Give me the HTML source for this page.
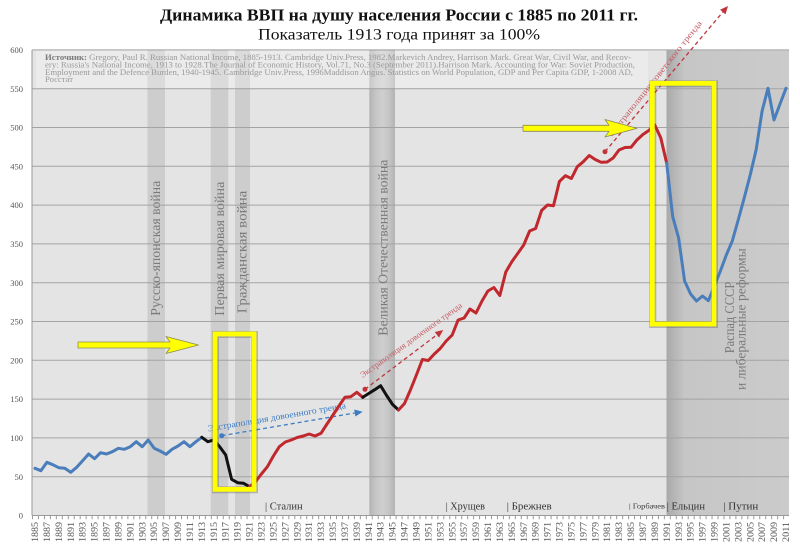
<!DOCTYPE html>
<html><head><meta charset="utf-8"><style>
html,body{margin:0;padding:0;background:#fff;}
svg{display:block;}
text{font-family:"Liberation Serif","Noto Serif CJK SC",serif;}
</style></head><body>
<svg width="800" height="552" viewBox="0 0 800 552" xmlns="http://www.w3.org/2000/svg">
<defs>
<linearGradient id="ww2" x1="0" x2="1" y1="0" y2="0">
<stop offset="0" stop-color="#b3b3b3"/><stop offset="0.25" stop-color="#c6c6c6"/><stop offset="0.5" stop-color="#cfcfcf"/><stop offset="0.75" stop-color="#c6c6c6"/><stop offset="1" stop-color="#b3b3b3"/>
</linearGradient>
<linearGradient id="rgt" x1="0" x2="1" y1="0" y2="0">
<stop offset="0" stop-color="#a9a9a9"/><stop offset="0.15" stop-color="#c6c6c6"/><stop offset="1" stop-color="#cbcbcb"/>
</linearGradient>
</defs>

<!-- title -->
<text x="160" y="20.5" font-size="17" font-weight="bold" fill="#111" textLength="478" lengthAdjust="spacingAndGlyphs">Динамика ВВП на душу населения России с 1885 по 2011 гг.</text>
<text x="258" y="39.5" font-size="15.5" fill="#111" textLength="282" lengthAdjust="spacingAndGlyphs">Показатель 1913 года принят за 100%</text>

<!-- plot background -->
<rect x="32" y="50" width="757" height="465.5" fill="#e4e4e4"/>
<!-- bands -->
<rect x="147.5" y="50" width="17.5" height="465.5" fill="#cdcdcd"/>
<rect x="210.7" y="50" width="17.6" height="465.5" fill="#cdcdcd"/>
<rect x="235" y="50" width="15" height="465.5" fill="#cdcdcd"/>
<rect x="369.3" y="50" width="25.7" height="465.5" fill="url(#ww2)"/>
<rect x="666.5" y="50" width="122.5" height="465.5" fill="url(#rgt)"/>

<!-- source overlay -->
<rect x="36" y="51" width="612" height="37" fill="#ffffff" opacity="0.28"/>

<!-- gridlines -->
<g stroke="#a3a3a3" stroke-width="1">
<line x1="32" x2="789" y1="49.9" y2="49.9"/>
<line x1="32" x2="789" y1="88.7" y2="88.7"/>
<line x1="32" x2="789" y1="127.5" y2="127.5"/>
<line x1="32" x2="789" y1="166.3" y2="166.3"/>
<line x1="32" x2="789" y1="205.1" y2="205.1"/>
<line x1="32" x2="789" y1="243.9" y2="243.9"/>
<line x1="32" x2="789" y1="282.7" y2="282.7"/>
<line x1="32" x2="789" y1="321.5" y2="321.5"/>
<line x1="32" x2="789" y1="360.3" y2="360.3"/>
<line x1="32" x2="789" y1="399.1" y2="399.1"/>
<line x1="32" x2="789" y1="437.9" y2="437.9"/>
<line x1="32" x2="789" y1="476.7" y2="476.7"/>
</g>
<line x1="32" x2="32" y1="50" y2="515.5" stroke="#999" stroke-width="1"/>
<line x1="32" x2="789" y1="515.5" y2="515.5" stroke="#999" stroke-width="1"/>
<line x1="32" x2="789" y1="517.5" y2="517.5" stroke="#999" stroke-width="3.5" stroke-dasharray="1 4.961"/>

<!-- y labels -->
<g font-size="8.5" fill="#555" text-anchor="end">
<text x="23" y="53">600</text>
<text x="23" y="91.8">550</text>
<text x="23" y="130.6">500</text>
<text x="23" y="169.4">450</text>
<text x="23" y="208.2">400</text>
<text x="23" y="247">350</text>
<text x="23" y="285.8">300</text>
<text x="23" y="324.6">250</text>
<text x="23" y="363.4">200</text>
<text x="23" y="402.2">150</text>
<text x="23" y="441">100</text>
<text x="23" y="479.8">50</text>
<text x="23" y="518.6">0</text>
</g>

<!-- source text -->
<g font-size="8.5" fill="#999">
<text x="45" y="60" textLength="586" lengthAdjust="spacingAndGlyphs"><tspan font-weight="bold" fill="#7a7a7a">Источник:</tspan> Gregory, Paul R. Russian National Income, 1885-1913. Cambridge Univ.Press, 1982.Markevich Andrey, Harrison Mark. Great War, Civil War, and Recov-</text>
<text x="45" y="67.5" textLength="590" lengthAdjust="spacingAndGlyphs">ery: Russia's National Income, 1913 to 1928.The Journal of Economic History, Vol.71, No.3 (September 2011).Harrison Mark. Accounting for War: Soviet Production,</text>
<text x="45" y="75" textLength="588" lengthAdjust="spacingAndGlyphs">Employment and the Defence Burden, 1940-1945. Cambridge Univ.Press, 1996Maddison Angus. Statistics on World Population, GDP and Per Capita GDP, 1-2008 AD,</text>
<text x="45" y="82" textLength="28" lengthAdjust="spacingAndGlyphs">Росстат</text>
</g>

<!-- vertical labels -->
<g font-size="14" fill="#7a7a7a">
<text transform="translate(160,315.7) rotate(-90)" textLength="135" lengthAdjust="spacingAndGlyphs">Русско-японская война</text>
<text transform="translate(224,315.7) rotate(-90)" textLength="134" lengthAdjust="spacingAndGlyphs">Первая мировая война</text>
<text transform="translate(246.5,313.3) rotate(-90)" textLength="122.6" lengthAdjust="spacingAndGlyphs">Гражданская война</text>
<text transform="translate(387.5,335.7) rotate(-90)" textLength="176" lengthAdjust="spacingAndGlyphs">Великая Отечественная война</text>
<text transform="translate(734,353.3) rotate(-90)" textLength="71.6" lengthAdjust="spacingAndGlyphs">Распад СССР</text>
<text transform="translate(745.5,390) rotate(-90)" textLength="141.7" lengthAdjust="spacingAndGlyphs">и либеральные реформы</text>
</g>

<!-- leaders -->
<g font-size="11" fill="#333">
<text x="265" y="509.5" textLength="37.7" lengthAdjust="spacingAndGlyphs">| Сталин</text>
<text x="445.7" y="509.5" textLength="39.3" lengthAdjust="spacingAndGlyphs">| Хрущев</text>
<text x="506.7" y="509.5" textLength="45" lengthAdjust="spacingAndGlyphs">| Брежнев</text>
<text x="629" y="508.5" font-size="7.5" textLength="36" lengthAdjust="spacingAndGlyphs">| Горбачев</text>
<text x="666.7" y="509.5" textLength="38.3" lengthAdjust="spacingAndGlyphs">| Ельцин</text>
<text x="723.3" y="509.5" textLength="35" lengthAdjust="spacingAndGlyphs">| Путин</text>
</g>

<!-- x labels -->
<g font-size="9" fill="#555" text-anchor="end">
<text transform="translate(38,522) rotate(-90)" textLength="20" lengthAdjust="spacingAndGlyphs">1885</text>
<text transform="translate(49.9,522) rotate(-90)" textLength="20" lengthAdjust="spacingAndGlyphs">1887</text>
<text transform="translate(61.8,522) rotate(-90)" textLength="20" lengthAdjust="spacingAndGlyphs">1889</text>
<text transform="translate(73.75,522) rotate(-90)" textLength="20" lengthAdjust="spacingAndGlyphs">1891</text>
<text transform="translate(85.67,522) rotate(-90)" textLength="20" lengthAdjust="spacingAndGlyphs">1893</text>
<text transform="translate(97.59,522) rotate(-90)" textLength="20" lengthAdjust="spacingAndGlyphs">1895</text>
<text transform="translate(109.51,522) rotate(-90)" textLength="20" lengthAdjust="spacingAndGlyphs">1897</text>
<text transform="translate(121.43,522) rotate(-90)" textLength="20" lengthAdjust="spacingAndGlyphs">1899</text>
<text transform="translate(133.36,522) rotate(-90)" textLength="20" lengthAdjust="spacingAndGlyphs">1901</text>
<text transform="translate(145.28,522) rotate(-90)" textLength="20" lengthAdjust="spacingAndGlyphs">1903</text>
<text transform="translate(157.2,522) rotate(-90)" textLength="20" lengthAdjust="spacingAndGlyphs">1905</text>
<text transform="translate(169.12,522) rotate(-90)" textLength="20" lengthAdjust="spacingAndGlyphs">1907</text>
<text transform="translate(181.04,522) rotate(-90)" textLength="20" lengthAdjust="spacingAndGlyphs">1909</text>
<text transform="translate(192.97,522) rotate(-90)" textLength="20" lengthAdjust="spacingAndGlyphs">1911</text>
<text transform="translate(204.89,522) rotate(-90)" textLength="20" lengthAdjust="spacingAndGlyphs">1913</text>
<text transform="translate(216.81,522) rotate(-90)" textLength="20" lengthAdjust="spacingAndGlyphs">1915</text>
<text transform="translate(228.73,522) rotate(-90)" textLength="20" lengthAdjust="spacingAndGlyphs">1917</text>
<text transform="translate(240.65,522) rotate(-90)" textLength="20" lengthAdjust="spacingAndGlyphs">1919</text>
<text transform="translate(252.58,522) rotate(-90)" textLength="20" lengthAdjust="spacingAndGlyphs">1921</text>
<text transform="translate(264.5,522) rotate(-90)" textLength="20" lengthAdjust="spacingAndGlyphs">1923</text>
<text transform="translate(276.42,522) rotate(-90)" textLength="20" lengthAdjust="spacingAndGlyphs">1925</text>
<text transform="translate(288.34,522) rotate(-90)" textLength="20" lengthAdjust="spacingAndGlyphs">1927</text>
<text transform="translate(300.26,522) rotate(-90)" textLength="20" lengthAdjust="spacingAndGlyphs">1929</text>
<text transform="translate(312.19,522) rotate(-90)" textLength="20" lengthAdjust="spacingAndGlyphs">1931</text>
<text transform="translate(324.11,522) rotate(-90)" textLength="20" lengthAdjust="spacingAndGlyphs">1933</text>
<text transform="translate(336.03,522) rotate(-90)" textLength="20" lengthAdjust="spacingAndGlyphs">1935</text>
<text transform="translate(347.95,522) rotate(-90)" textLength="20" lengthAdjust="spacingAndGlyphs">1937</text>
<text transform="translate(359.87,522) rotate(-90)" textLength="20" lengthAdjust="spacingAndGlyphs">1939</text>
<text transform="translate(371.8,522) rotate(-90)" textLength="20" lengthAdjust="spacingAndGlyphs">1941</text>
<text transform="translate(383.72,522) rotate(-90)" textLength="20" lengthAdjust="spacingAndGlyphs">1943</text>
<text transform="translate(395.64,522) rotate(-90)" textLength="20" lengthAdjust="spacingAndGlyphs">1945</text>
<text transform="translate(407.56,522) rotate(-90)" textLength="20" lengthAdjust="spacingAndGlyphs">1947</text>
<text transform="translate(419.48,522) rotate(-90)" textLength="20" lengthAdjust="spacingAndGlyphs">1949</text>
<text transform="translate(431.41,522) rotate(-90)" textLength="20" lengthAdjust="spacingAndGlyphs">1951</text>
<text transform="translate(443.33,522) rotate(-90)" textLength="20" lengthAdjust="spacingAndGlyphs">1953</text>
<text transform="translate(455.25,522) rotate(-90)" textLength="20" lengthAdjust="spacingAndGlyphs">1955</text>
<text transform="translate(467.17,522) rotate(-90)" textLength="20" lengthAdjust="spacingAndGlyphs">1957</text>
<text transform="translate(479.09,522) rotate(-90)" textLength="20" lengthAdjust="spacingAndGlyphs">1959</text>
<text transform="translate(491.02,522) rotate(-90)" textLength="20" lengthAdjust="spacingAndGlyphs">1961</text>
<text transform="translate(502.94,522) rotate(-90)" textLength="20" lengthAdjust="spacingAndGlyphs">1963</text>
<text transform="translate(514.86,522) rotate(-90)" textLength="20" lengthAdjust="spacingAndGlyphs">1965</text>
<text transform="translate(526.78,522) rotate(-90)" textLength="20" lengthAdjust="spacingAndGlyphs">1967</text>
<text transform="translate(538.7,522) rotate(-90)" textLength="20" lengthAdjust="spacingAndGlyphs">1969</text>
<text transform="translate(550.63,522) rotate(-90)" textLength="20" lengthAdjust="spacingAndGlyphs">1971</text>
<text transform="translate(562.55,522) rotate(-90)" textLength="20" lengthAdjust="spacingAndGlyphs">1973</text>
<text transform="translate(574.47,522) rotate(-90)" textLength="20" lengthAdjust="spacingAndGlyphs">1975</text>
<text transform="translate(586.39,522) rotate(-90)" textLength="20" lengthAdjust="spacingAndGlyphs">1977</text>
<text transform="translate(598.31,522) rotate(-90)" textLength="20" lengthAdjust="spacingAndGlyphs">1979</text>
<text transform="translate(610.24,522) rotate(-90)" textLength="20" lengthAdjust="spacingAndGlyphs">1981</text>
<text transform="translate(622.16,522) rotate(-90)" textLength="20" lengthAdjust="spacingAndGlyphs">1983</text>
<text transform="translate(634.08,522) rotate(-90)" textLength="20" lengthAdjust="spacingAndGlyphs">1985</text>
<text transform="translate(646,522) rotate(-90)" textLength="20" lengthAdjust="spacingAndGlyphs">1987</text>
<text transform="translate(657.92,522) rotate(-90)" textLength="20" lengthAdjust="spacingAndGlyphs">1989</text>
<text transform="translate(669.85,522) rotate(-90)" textLength="20" lengthAdjust="spacingAndGlyphs">1991</text>
<text transform="translate(681.77,522) rotate(-90)" textLength="20" lengthAdjust="spacingAndGlyphs">1993</text>
<text transform="translate(693.69,522) rotate(-90)" textLength="20" lengthAdjust="spacingAndGlyphs">1995</text>
<text transform="translate(705.61,522) rotate(-90)" textLength="20" lengthAdjust="spacingAndGlyphs">1997</text>
<text transform="translate(717.53,522) rotate(-90)" textLength="20" lengthAdjust="spacingAndGlyphs">1999</text>
<text transform="translate(729.46,522) rotate(-90)" textLength="20" lengthAdjust="spacingAndGlyphs">2001</text>
<text transform="translate(741.38,522) rotate(-90)" textLength="20" lengthAdjust="spacingAndGlyphs">2003</text>
<text transform="translate(753.3,522) rotate(-90)" textLength="20" lengthAdjust="spacingAndGlyphs">2005</text>
<text transform="translate(765.22,522) rotate(-90)" textLength="20" lengthAdjust="spacingAndGlyphs">2007</text>
<text transform="translate(777.14,522) rotate(-90)" textLength="20" lengthAdjust="spacingAndGlyphs">2009</text>
<text transform="translate(789.07,522) rotate(-90)" textLength="20" lengthAdjust="spacingAndGlyphs">2011</text>
</g>

<!-- trend lines -->
<g>
<line x1="221.7" y1="435.7" x2="354.8" y2="413" stroke="#3b7cc4" stroke-width="1.3" stroke-dasharray="4 3"/>
<circle cx="221.7" cy="435.7" r="2.5" fill="#3b7cc4"/>
<polygon points="362.7,411.7 355.4,416.5 354.2,409.5" fill="#3b7cc4"/>
<text transform="translate(208.3,431.5) rotate(-9.6)" font-size="9" fill="#3b7cc4" textLength="140" lengthAdjust="spacingAndGlyphs">Экстраполяция довоенного тренда</text>

<line x1="365" y1="389.3" x2="436.9" y2="334.8" stroke="#c0333a" stroke-width="1.3" stroke-dasharray="4 3"/>
<circle cx="365" cy="389.3" r="2.5" fill="#c0333a"/>
<polygon points="443.3,330 439,337.6 434.8,332" fill="#c0333a"/>
<text transform="translate(362.5,378) rotate(-35.4)" font-size="8.5" fill="#c65c62" textLength="123" lengthAdjust="spacingAndGlyphs">Экстраполяция довоенного тренда</text>

<line x1="605" y1="151.7" x2="722.8" y2="12.1" stroke="#c0333a" stroke-width="1.3" stroke-dasharray="4 3"/>
<circle cx="605" cy="151.7" r="2.5" fill="#c0333a"/>
<polygon points="728,6 725.5,14.4 720.1,9.8" fill="#c0333a"/>
<text transform="translate(612,137) rotate(-51.5)" font-size="8.5" fill="#c65c62" textLength="145" lengthAdjust="spacingAndGlyphs">Экстраполяция советского тренда</text>
</g>

<!-- data lines -->
<g fill="none" stroke-width="3" stroke-linejoin="round" stroke-linecap="round">
<polyline stroke="#4a7ebb" points="35,468.3 40.9,470.7 46.9,462.3 52.8,464.7 58.8,467.7 64.8,468.3 70.7,472.3 76.7,467.3 82.6,460.7 88.6,454 94.6,458.7 100.5,452.7 106.5,454 112.4,451.7 118.4,448.3 124.4,449.3 130.3,446.7 136.3,441.7 142.2,446.7 148.2,440 154.2,448.3 160.1,451 166.1,454.3 172,449.3 178,446 184,441.7 189.9,446.7 195.9,441.7 201.8,437.3"/>
<polyline stroke="#111" points="201.8,437.3 207.8,441.7 213.8,440 219.7,446.7 225.7,455 231.6,479.3 237.6,482.7 243.6,483.3 249.5,486.7"/>
<polyline stroke="#c0282d" points="249.5,486.7 255.5,481.7 261.4,474 267.4,466.7 273.4,456 279.3,446.7 285.3,442 291.2,440 297.2,437.5 303.2,436 309.1,434 315.1,436 321,433.3 327,424 333,415 338.9,406 344.9,397.3 350.8,396.7 356.8,392.3 362.8,397.3"/>
<polyline stroke="#111" points="362.8,397.3 368.7,393.5 374.7,389.7 380.6,385.7 386.6,395.5 392.6,404.5 398.5,410"/>
<polyline stroke="#c0282d" points="398.5,410 404.5,403.5 410.4,390 416.4,375 422.4,359.5 428.3,360.5 434.3,354 440.2,348.5 446.2,341 452.2,335 458.1,320 464.1,318 470,309 476,313 482,301 487.9,291 493.9,287.5 499.8,295.5 505.8,272 511.8,261.7 517.7,253.5 523.7,245 529.6,231 535.6,228.5 541.6,210.5 547.5,205 553.5,205.7 559.4,181.5 565.4,175.7 571.4,178.5 577.3,166.7 583.3,161.7 589.2,155.5 595.2,159.5 601.2,162.3 607.1,162 613.1,158 619,150 625,147.5 631,147.3 636.9,140 642.9,134.5 648.8,130.5 654.8,125 660.8,138 666.7,163.3"/>
<polyline stroke="#4a7ebb" points="666.7,163.3 672.7,216.7 678.6,238 684.6,281 690.6,294 696.5,301 702.5,296 708.4,300.7 714.4,286 720.4,271 726.3,255 732.3,241 738.2,220 744.2,198 750.2,175 756.1,150 762.1,111 768,88.3 774,120 780,104 786,88.3"/>
</g>

<!-- yellow boxes -->
<g fill="none">
<rect x="215.5" y="334.5" width="39" height="155.3" stroke="#555" stroke-width="7" opacity="0.35"/>
<rect x="215" y="334" width="39" height="155.3" stroke="#ffff00" stroke-width="4.8"/>
<rect x="652.8" y="83.8" width="61.7" height="240.7" stroke="#555" stroke-width="7" opacity="0.35"/>
<rect x="652.3" y="83.3" width="61.7" height="240.7" stroke="#ffff00" stroke-width="4.8"/>
</g>

<!-- yellow arrows -->
<polygon points="78,342 170,342 166,336.5 198.5,345 166,353.5 170,348 78,348" fill="#ffff00" stroke="#8a8a55" stroke-width="0.8" stroke-linejoin="round"/>
<polygon points="523,125.3 609,125.3 605,119.5 637,128.3 605,137 609,131.3 523,131.3" fill="#ffff00" stroke="#8a8a55" stroke-width="0.8" stroke-linejoin="round"/>
</svg>
</body></html>
